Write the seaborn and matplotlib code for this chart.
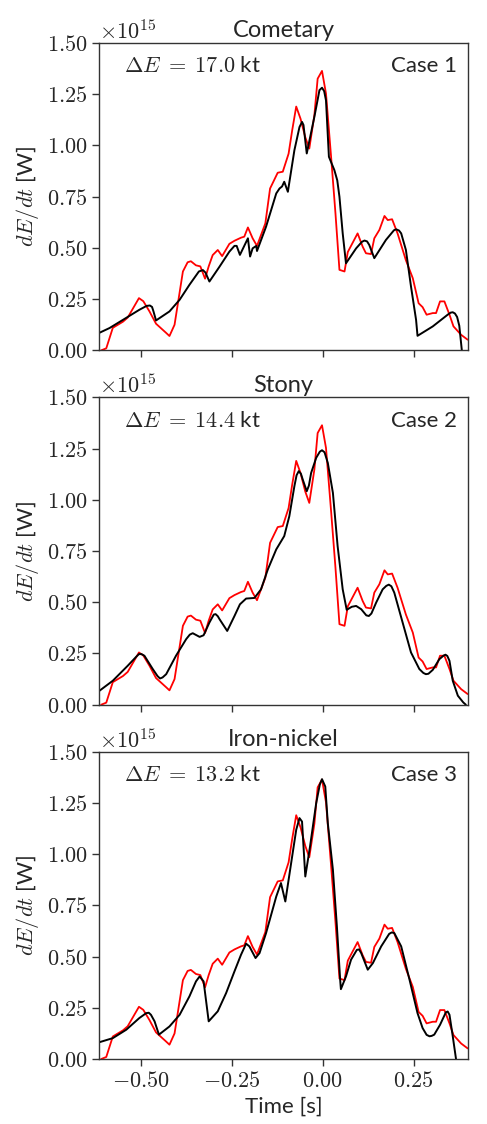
import numpy as np
import pandas as pd
import matplotlib
matplotlib.use("Agg")
import matplotlib.pyplot as plt
from matplotlib.ticker import FuncFormatter
import seaborn as sns

# Observed light curve (time in s, power in units of 1e15 W)
obs_time = [-0.610, -0.596, -0.578, -0.550, -0.537, -0.506, -0.494, -0.477, -0.459, -0.431,
            -0.422, -0.408, -0.385, -0.372, -0.363, -0.349, -0.337, -0.324, -0.314, -0.303,
            -0.289, -0.277, -0.257, -0.243, -0.225, -0.216, -0.206, -0.193, -0.181, -0.158,
            -0.145, -0.124, -0.110, -0.094, -0.084, -0.073, -0.061, -0.048, -0.037, -0.023,
            -0.014, -0.002, 0.009, 0.023, 0.035, 0.046, 0.060, 0.069, 0.096, 0.110,
            0.119, 0.133, 0.142, 0.156, 0.170, 0.179, 0.191, 0.206, 0.229, 0.248,
            0.264, 0.275, 0.286, 0.303, 0.312, 0.323, 0.335, 0.349, 0.360, 0.381, 0.399]
obs_power = [0.00, 0.01, 0.11, 0.14, 0.16, 0.255, 0.24, 0.19, 0.13, 0.085,
             0.07, 0.125, 0.385, 0.43, 0.435, 0.415, 0.41, 0.35, 0.41, 0.465,
             0.49, 0.46, 0.52, 0.535, 0.55, 0.555, 0.60, 0.547, 0.51, 0.62,
             0.79, 0.867, 0.872, 0.96, 1.075, 1.19, 1.13, 1.04, 0.985, 1.148,
             1.326, 1.364, 1.253, 0.945, 0.67, 0.393, 0.385, 0.48, 0.571, 0.506,
             0.474, 0.47, 0.547, 0.588, 0.656, 0.636, 0.64, 0.571, 0.44, 0.352,
             0.23, 0.211, 0.174, 0.182, 0.182, 0.239, 0.239, 0.174, 0.117, 0.076, 0.052]

# Model: cometary impactor (Case 1)
comet_time = [-0.617, -0.587, -0.550, -0.505, -0.485, -0.476, -0.470, -0.466, -0.459, -0.422,
              -0.394, -0.367, -0.341, -0.330, -0.323, -0.312, -0.284, -0.257, -0.243, -0.237,
              -0.228, -0.206, -0.200, -0.193, -0.183, -0.181, -0.156, -0.128, -0.119, -0.112,
              -0.106, -0.096, -0.078, -0.064, -0.057, -0.053, -0.044, -0.023, -0.009, -0.002,
              0.004, 0.009, 0.017, 0.032, 0.040, 0.046, 0.055, 0.064, 0.092, 0.108,
              0.115, 0.122, 0.128, 0.142, 0.174, 0.196, 0.202, 0.210, 0.216, 0.229,
              0.243, 0.257, 0.261, 0.303, 0.344, 0.352, 0.358, 0.364, 0.370, 0.376,
              0.383, 0.388]
comet_power = [0.084, 0.109, 0.149, 0.198, 0.217, 0.219, 0.212, 0.19, 0.146, 0.19,
               0.247, 0.32, 0.385, 0.392, 0.38, 0.336, 0.409, 0.482, 0.51, 0.51,
               0.466, 0.547, 0.458, 0.498, 0.51, 0.485, 0.604, 0.766, 0.79, 0.80,
               0.823, 0.774, 0.977, 1.09, 1.115, 1.10, 0.961, 1.14, 1.27, 1.282,
               1.265, 1.22, 0.945, 0.88, 0.83, 0.75, 0.571, 0.425, 0.498, 0.53,
               0.536, 0.532, 0.515, 0.45, 0.539, 0.586, 0.591, 0.585, 0.571, 0.49,
               0.312, 0.149, 0.071, 0.117, 0.174, 0.184, 0.186, 0.18, 0.163, 0.12,
               0.0, -0.05]

# Model: stony impactor (Case 2)
stony_time = [-0.617, -0.578, -0.537, -0.513, -0.506, -0.499, -0.491, -0.468, -0.455, -0.448,
              -0.441, -0.431, -0.404, -0.376, -0.366, -0.358, -0.339, -0.328, -0.312, -0.300,
              -0.295, -0.289, -0.284, -0.263, -0.243, -0.228, -0.211, -0.188, -0.170, -0.151,
              -0.128, -0.106, -0.092, -0.078, -0.072, -0.066, -0.060, -0.055, -0.044, -0.038,
              -0.032, -0.018, -0.008, -0.002, 0.005, 0.014, 0.028, 0.041, 0.055, 0.066,
              0.080, 0.092, 0.106, 0.120, 0.127, 0.134, 0.147, 0.165, 0.175, 0.182,
              0.189, 0.197, 0.220, 0.243, 0.266, 0.277, 0.284, 0.291, 0.303, 0.321,
              0.333, 0.338, 0.343, 0.349, 0.358, 0.372, 0.387, 0.394]
stony_power = [0.065, 0.117, 0.19, 0.235, 0.247, 0.247, 0.239, 0.174, 0.14, 0.128,
               0.133, 0.149, 0.239, 0.32, 0.342, 0.349, 0.331, 0.339, 0.401, 0.44,
               0.442, 0.432, 0.417, 0.36, 0.433, 0.49, 0.518, 0.521, 0.563, 0.661,
               0.758, 0.823, 0.92, 1.067, 1.12, 1.14, 1.127, 1.099, 1.042, 1.07,
               1.131, 1.205, 1.235, 1.242, 1.232, 1.18, 1.034, 0.774, 0.563, 0.463,
               0.478, 0.482, 0.466, 0.436, 0.433, 0.445, 0.498, 0.563, 0.58, 0.586,
               0.578, 0.547, 0.401, 0.255, 0.174, 0.155, 0.149, 0.151, 0.17, 0.222,
               0.24, 0.244, 0.238, 0.214, 0.117, 0.044, 0.011, 0.0]

# Model: iron-nickel impactor (Case 3)
iron_time = [-0.617, -0.578, -0.541, -0.505, -0.486, -0.479, -0.473, -0.463, -0.451, -0.422,
             -0.394, -0.367, -0.349, -0.339, -0.328, -0.314, -0.289, -0.266, -0.243, -0.225,
             -0.211, -0.202, -0.185, -0.174, -0.156, -0.142, -0.128, -0.115, -0.103, -0.087,
             -0.073, -0.064, -0.057, -0.048, -0.035, -0.018, -0.008, -0.002, 0.007, 0.014,
             0.028, 0.039, 0.048, 0.050, 0.064, 0.078, 0.094, 0.100, 0.106, 0.124,
             0.138, 0.161, 0.183, 0.190, 0.197, 0.216, 0.239, 0.261, 0.275, 0.286,
             0.294, 0.300, 0.307, 0.323, 0.339, 0.344, 0.349, 0.358, 0.367, 0.372]
iron_power = [0.081, 0.102, 0.143, 0.20, 0.224, 0.226, 0.216, 0.184, 0.119, 0.159,
              0.216, 0.306, 0.379, 0.403, 0.379, 0.184, 0.233, 0.322, 0.428, 0.509,
              0.563, 0.55, 0.493, 0.517, 0.615, 0.704, 0.793, 0.859, 0.769, 0.956,
              1.119, 1.176, 1.159, 0.891, 1.037, 1.249, 1.34, 1.366, 1.33, 1.151,
              0.924, 0.647, 0.387, 0.341, 0.403, 0.485, 0.533, 0.535, 0.517, 0.436,
              0.468, 0.55, 0.611, 0.618, 0.615, 0.55, 0.387, 0.224, 0.151, 0.118,
              0.111, 0.113, 0.119, 0.167, 0.228, 0.232, 0.216, 0.111, 0.0, -0.05]

titles = ["Cometary", "Stony", "Iron-nickel"]
energies = ["17.0", "14.4", "13.2"]
case_labels = ["Case 1", "Case 2", "Case 3"]
model_times = [comet_time, stony_time, iron_time]
model_powers = [comet_power, stony_power, iron_power]

SCALE = 1e15
x_ticks = [-0.50, -0.25, 0.00, 0.25]
y_ticks = [0.00, 0.25, 0.50, 0.75, 1.00, 1.25, 1.50]

sns.set_style("ticks")
plt.rcParams["font.family"] = ["Lato", "DejaVu Sans"]
plt.rcParams["mathtext.fontset"] = "cm"
plt.rcParams["xtick.direction"] = "out"
plt.rcParams["ytick.direction"] = "out"

fig, axes = plt.subplots(3, 1, figsize=(4.87, 11.24), dpi=100, sharex=True)
fig.subplots_adjust(left=0.2033, right=0.961, top=0.9617, bottom=0.0578, hspace=0.153)

obs = pd.DataFrame({"time": obs_time, "power": np.array(obs_power) * SCALE})


def y_label(v, pos):
    return r"$\mathrm{%.2f}$" % (v / SCALE)


def x_label(v, pos):
    s = "%.2f" % v
    if v < 0:
        return r"$-\mathrm{%s}$" % s[1:]
    return r"$\mathrm{%s}$" % s


for i, ax in enumerate(axes):
    model = pd.DataFrame({"time": model_times[i],
                          "power": np.array(model_powers[i]) * SCALE})
    sns.lineplot(data=obs, x="time", y="power", ax=ax, color="#ff0000",
                 linewidth=1.3, estimator=None, sort=False)
    sns.lineplot(data=model, x="time", y="power", ax=ax, color="black",
                 linewidth=1.4, estimator=None, sort=False)

    ax.set_xlim(-0.616, 0.4)
    ax.set_ylim(0, 1.5 * SCALE)
    ax.set_xticks(x_ticks)
    ax.set_yticks([t * SCALE for t in y_ticks])
    yfmt = FuncFormatter(y_label)
    yfmt.set_offset_string(r"$\times\mathrm{10}^{\mathrm{15}}$")
    ax.yaxis.set_major_formatter(yfmt)
    ax.xaxis.set_major_formatter(FuncFormatter(x_label))
    ax.tick_params(axis="both", labelsize=16, length=5, width=1, color="#333333")
    ax.yaxis.get_offset_text().set_fontsize(16)
    for sp in ax.spines.values():
        sp.set_color("#333333")
        sp.set_linewidth(1.0)

    ax.set_title(titles[i], fontsize=17, pad=4)
    ax.set_ylabel(r"$dE/dt$ [W]", fontsize=16, labelpad=4)
    ax.set_xlabel("Time [s]" if i == 2 else "", fontsize=16)
    ax.text(0.068, 0.905, r"$\Delta E\;=\;\mathrm{%s}$ kt" % energies[i],
            transform=ax.transAxes, fontsize=16, ha="left", va="baseline")
    ax.text(0.97, 0.905, case_labels[i], transform=ax.transAxes,
            fontsize=16, ha="right", va="baseline")

fig.savefig("out.png", dpi=100)
